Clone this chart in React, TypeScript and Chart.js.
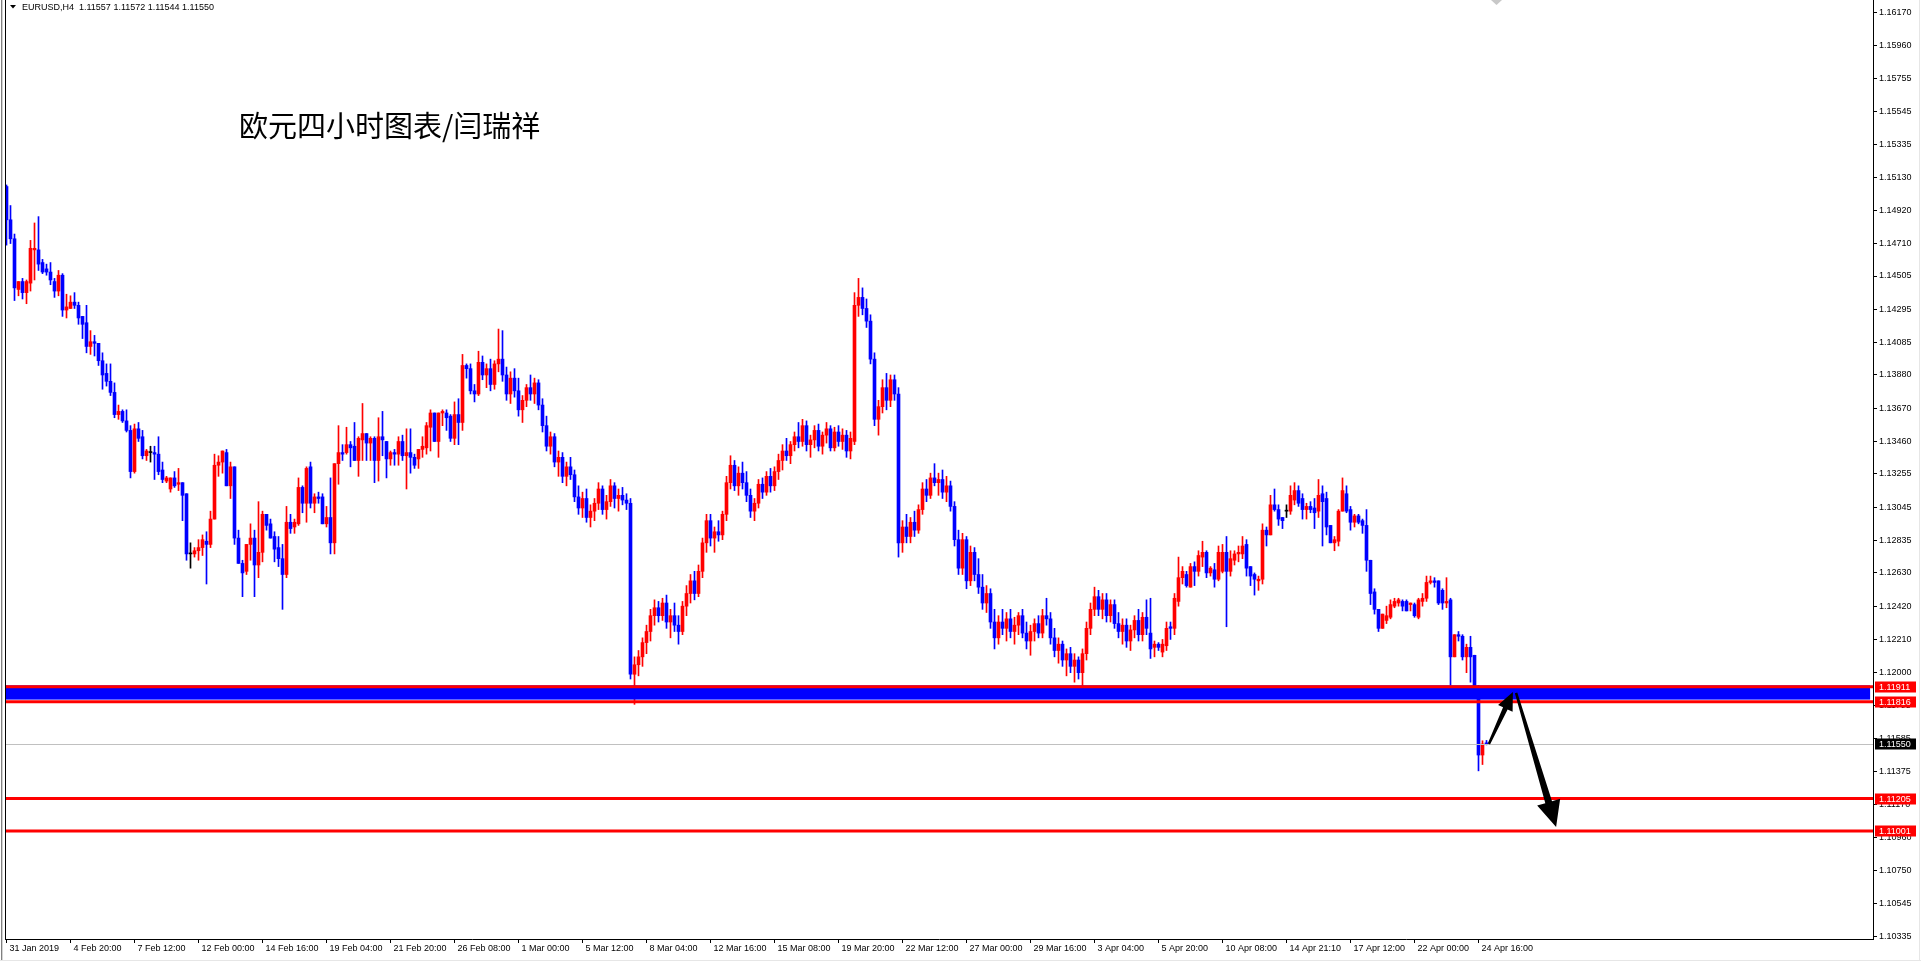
import React, { useEffect, useRef } from "react";
import { Chart, registerables } from "chart.js";

Chart.register(...registerables);

// ---- candle data (EURUSD H4), one entry per bar ----
const opens = [
  1.1507,1.1486,1.1474,1.1442,1.1447,1.1440,1.1446,1.1467,1.1467,1.1459,
  1.1455,1.1453,1.1447,1.1441,1.1451,1.1429,1.1430,1.1434,1.1432,1.1425,
  1.1421,1.1406,1.1409,1.1408,1.1397,1.1389,1.1384,1.1377,1.1363,1.1365,
  1.1359,1.1353,1.1327,1.1354,1.1349,1.1337,1.1339,1.1339,1.1338,1.1328,
  1.1321,1.1316,1.1323,1.1319,1.1320,1.1313,1.1275,1.1275,1.1277,1.1279,
  1.1283,1.1281,1.1297,1.1331,1.1333,1.1339,1.1318,1.1330,1.1285,1.1269,
  1.1264,1.1281,1.1285,1.1268,1.1276,1.1300,1.1294,1.1286,1.1279,1.1272,
  1.1262,1.1295,1.1292,1.1294,1.1317,1.1307,1.1330,1.1307,1.1311,1.1311,
  1.1294,1.1298,1.1282,1.1332,1.1339,1.1339,1.1344,1.1343,1.1334,1.1347,
  1.1351,1.1345,1.1348,1.1334,1.1349,1.1346,1.1335,1.1339,1.1338,1.1346,
  1.1337,1.1339,1.1336,1.1335,1.1341,1.1342,1.1355,1.1364,1.1346,1.1364,
  1.1364,1.1362,1.1348,1.1363,1.1358,1.1394,1.1392,1.1378,1.1376,1.1396,
  1.1388,1.1392,1.1382,1.1395,1.1398,1.1388,1.1376,1.1386,1.1378,1.1366,
  1.1372,1.1380,1.1376,1.1383,1.1369,1.1356,1.1343,1.1349,1.1333,1.1336,
  1.1324,1.1330,1.1325,1.1311,1.1304,1.1310,1.1298,1.1302,1.1307,1.1316,
  1.1303,1.1308,1.1318,1.1310,1.1312,1.1309,1.1307,1.1199,1.1205,1.1210,
  1.1219,1.1226,1.1236,1.1241,1.1236,1.1244,1.1232,1.1236,1.1230,1.1226,
  1.1242,1.1250,1.1258,1.1250,1.1264,1.1282,1.1296,1.1285,1.1289,1.1287,
  1.1300,1.1320,1.1331,1.1318,1.1326,1.1320,1.1312,1.1302,1.1307,1.1319,
  1.1314,1.1324,1.1318,1.1327,1.1334,1.1340,1.1337,1.1344,1.1349,1.1346,
  1.1356,1.1344,1.1347,1.1353,1.1343,1.1350,1.1354,1.1342,1.1352,1.1346,
  1.1350,1.1340,1.1346,1.1432,1.1437,1.1430,1.1422,1.1398,1.1360,1.1368,
  1.1380,1.1372,1.1385,1.1376,1.1282,1.1292,1.1286,1.1295,1.1290,1.1303,
  1.1316,1.1312,1.1323,1.1320,1.1322,1.1314,1.1318,1.1305,1.1284,1.1266,
  1.1284,1.1258,1.1276,1.1262,1.1254,1.1244,1.1250,1.1232,1.1222,1.1232,
  1.1228,1.1234,1.1226,1.1230,1.1236,1.1225,1.1220,1.1226,1.1231,1.1225,
  1.1236,1.1234,1.1222,1.1214,1.1218,1.1208,1.1212,1.1204,1.1208,1.1200,
  1.1212,1.1228,1.1240,1.1248,1.1240,1.1246,1.1236,1.1243,1.1231,1.1226,
  1.1230,1.1220,1.1227,1.1233,1.1224,1.1235,1.1225,1.1216,1.1218,1.1213,
  1.1217,1.1229,1.1228,1.1245,1.1260,1.1262,1.1254,1.1267,1.1264,1.1273,
  1.1276,1.1263,1.1265,1.1259,1.1264,1.1276,1.1264,1.1271,1.1275,1.1275,
  1.1281,1.1267,1.1262,1.1258,1.1259,1.1290,1.1287,1.1306,1.1303,1.1298,
  1.1302,1.1302,1.1309,1.1315,1.1310,1.1303,1.1305,1.1304,1.1302,1.1313,
  1.1310,1.1293,1.1282,1.1283,1.1302,1.1313,1.1303,1.1295,1.1299,1.1296,
  1.1293,1.1271,1.1251,1.1240,1.1228,1.1233,1.1235,1.1242,1.1244,1.1245,
  1.1245,1.1243,1.1243,1.1235,1.1245,1.1247,1.1257,1.1258,1.1258,1.1252,
  1.1244,1.1246,1.1210,1.1224,1.1223,1.1210,1.1216,1.1211,1.1190,1.1148,
  1.11557,
];

const highs = [
  1.1508,1.1495,1.1477,1.1447,1.1449,1.1448,1.1473,1.1484,1.1488,1.1461,
  1.1458,1.1459,1.1449,1.1454,1.1452,1.1439,1.1438,1.1440,1.1434,1.1425,
  1.1432,1.1416,1.1413,1.1408,1.1402,1.1395,1.1395,1.1383,1.1369,1.1366,
  1.1366,1.1356,1.1357,1.1358,1.1353,1.1341,1.1343,1.1343,1.1349,1.1333,
  1.1324,1.1323,1.1327,1.1329,1.1320,1.1313,1.1282,1.1279,1.1284,1.1287,
  1.1289,1.1302,1.1338,1.1337,1.1340,1.1341,1.1333,1.1330,1.1290,1.1271,
  1.1281,1.1294,1.1290,1.1308,1.1302,1.1300,1.1297,1.1289,1.1286,1.1281,
  1.1305,1.1300,1.1297,1.1323,1.1318,1.1330,1.1333,1.1313,1.1314,1.1313,
  1.1305,1.1323,1.1332,1.1356,1.1344,1.1355,1.1346,1.1358,1.1349,1.1370,
  1.1351,1.1349,1.1349,1.1361,1.1365,1.1346,1.1340,1.1341,1.1349,1.1350,
  1.1354,1.1354,1.1338,1.1341,1.1349,1.1358,1.1366,1.1364,1.1364,1.1366,
  1.1366,1.1363,1.1371,1.1373,1.1401,1.1395,1.1395,1.1382,1.1403,1.1400,
  1.1395,1.1398,1.1397,1.1417,1.1416,1.1393,1.1390,1.1392,1.1386,1.1375,
  1.1382,1.1388,1.1386,1.1385,1.1373,1.1362,1.1352,1.1351,1.1340,1.1339,
  1.1333,1.1336,1.1328,1.1318,1.1314,1.1316,1.1306,1.1310,1.1320,1.1318,
  1.1312,1.1322,1.1320,1.1316,1.1317,1.1313,1.1310,1.1210,1.1214,1.1222,
  1.1230,1.1240,1.1246,1.1245,1.1247,1.1249,1.1240,1.1244,1.1236,1.1245,
  1.1255,1.1262,1.1264,1.1268,1.1285,1.1300,1.1300,1.1292,1.1296,1.1302,
  1.1324,1.1337,1.1334,1.1330,1.1333,1.1327,1.1316,1.1310,1.1322,1.1323,
  1.1327,1.1329,1.1330,1.1338,1.1344,1.1348,1.1346,1.1352,1.1358,1.1360,
  1.1359,1.1350,1.1356,1.1357,1.1352,1.1358,1.1356,1.1355,1.1356,1.1354,
  1.1353,1.1352,1.1440,1.1449,1.1443,1.1436,1.1426,1.1402,1.1372,1.1385,
  1.1389,1.1388,1.1388,1.1380,1.1296,1.1300,1.1298,1.1302,1.1306,1.1320,
  1.1322,1.1326,1.1332,1.1326,1.1328,1.1324,1.1321,1.1308,1.1290,1.1288,
  1.1286,1.1280,1.1279,1.1272,1.1262,1.1255,1.1253,1.1240,1.1236,1.1240,
  1.1238,1.1240,1.1235,1.1238,1.1240,1.1232,1.1230,1.1234,1.1236,1.1240,
  1.1247,1.1238,1.1228,1.1222,1.1220,1.1215,1.1216,1.1212,1.1210,1.1215,
  1.1232,1.1244,1.1254,1.1252,1.1250,1.1250,1.1246,1.1246,1.1238,1.1234,
  1.1234,1.1230,1.1236,1.1240,1.1238,1.1246,1.1247,1.1220,1.1219,1.1221,
  1.1232,1.1232,1.1250,1.1273,1.1267,1.1264,1.1269,1.1270,1.1277,1.1283,
  1.1277,1.1267,1.1269,1.1280,1.1281,1.1286,1.1277,1.1277,1.1280,1.1286,
  1.1284,1.1267,1.1263,1.1261,1.1294,1.1292,1.1312,1.1316,1.1306,1.1298,
  1.1306,1.1318,1.1320,1.1318,1.1313,1.1307,1.1308,1.1310,1.1322,1.1318,
  1.1314,1.1293,1.1286,1.1303,1.1323,1.1318,1.1305,1.1300,1.1300,1.1297,
  1.1303,1.1271,1.1253,1.1240,1.1237,1.1242,1.1246,1.1247,1.1247,1.1246,
  1.1246,1.1244,1.1244,1.1247,1.1250,1.1261,1.1261,1.1260,1.1258,1.1253,
  1.1260,1.1247,1.1224,1.1226,1.1224,1.1218,1.1223,1.1211,1.1192,1.1157,
  1.11572,
];

const lows = [
  1.1470,1.1471,1.1435,1.1438,1.1436,1.1433,1.1441,1.1448,1.1454,1.1452,
  1.1451,1.1445,1.1437,1.1438,1.1425,1.1424,1.1430,1.1430,1.1420,1.1411,
  1.1402,1.1401,1.1400,1.1394,1.1379,1.1381,1.1375,1.1361,1.1360,1.1358,
  1.1352,1.1323,1.1326,1.1346,1.1335,1.1334,1.1333,1.1322,1.1325,1.1320,
  1.1320,1.1314,1.1317,1.1315,1.1296,1.1271,1.1266,1.1273,1.1271,1.1274,
  1.1256,1.1279,1.1297,1.1324,1.1326,1.1318,1.1310,1.1281,1.1269,1.1248,
  1.1262,1.1271,1.1248,1.1260,1.1270,1.1290,1.1285,1.1270,1.1267,1.1240,
  1.1260,1.1288,1.1288,1.1293,1.1301,1.1295,1.1304,1.1301,1.1307,1.1294,
  1.1292,1.1275,1.1275,1.1319,1.1334,1.1338,1.1330,1.1334,1.1324,1.1334,
  1.1334,1.1334,1.1320,1.1321,1.1337,1.1323,1.1331,1.1331,1.1331,1.1334,
  1.1316,1.1326,1.1329,1.1329,1.1336,1.1338,1.1340,1.1346,1.1336,1.1356,
  1.1353,1.1346,1.1344,1.1344,1.1353,1.1386,1.1376,1.1371,1.1375,1.1385,
  1.1380,1.1378,1.1379,1.1390,1.1384,1.1372,1.1370,1.1374,1.1362,1.1358,
  1.1368,1.1372,1.1370,1.1366,1.1352,1.1340,1.1338,1.1330,1.1324,1.1320,
  1.1318,1.1322,1.1308,1.1300,1.1298,1.1295,1.1292,1.1296,1.1303,1.1300,
  1.1297,1.1305,1.1304,1.1302,1.1306,1.1303,1.1196,1.1180,1.1198,1.1204,
  1.1212,1.1220,1.1230,1.1232,1.1233,1.1228,1.1222,1.1226,1.1218,1.1224,
  1.1236,1.1244,1.1246,1.1248,1.1260,1.1276,1.1280,1.1276,1.1283,1.1284,
  1.1296,1.1316,1.1315,1.1312,1.1316,1.1308,1.1298,1.1296,1.1304,1.1310,
  1.1312,1.1314,1.1315,1.1322,1.1328,1.1334,1.1332,1.1340,1.1342,1.1343,
  1.1340,1.1336,1.1342,1.1340,1.1338,1.1345,1.1340,1.1340,1.1343,1.1341,
  1.1336,1.1335,1.1344,1.1425,1.1426,1.1418,1.1395,1.1356,1.1350,1.1364,
  1.1366,1.1368,1.1372,1.1273,1.1276,1.1282,1.1282,1.1286,1.1288,1.1300,
  1.1308,1.1310,1.1318,1.1312,1.1310,1.1308,1.1302,1.1280,1.1262,1.1262,
  1.1253,1.1255,1.1258,1.1250,1.1240,1.1238,1.1228,1.1215,1.1218,1.1224,
  1.1220,1.1222,1.1218,1.1224,1.1222,1.1215,1.1211,1.1220,1.1222,1.1222,
  1.1230,1.1218,1.1210,1.1206,1.1204,1.1198,1.1200,1.1194,1.1196,1.1186,
  1.1208,1.1224,1.1236,1.1236,1.1234,1.1232,1.1232,1.1228,1.1222,1.1218,
  1.1216,1.1214,1.1222,1.1220,1.1220,1.1224,1.1209,1.1210,1.1214,1.1210,
  1.1214,1.1221,1.1224,1.1242,1.1256,1.1254,1.1254,1.1255,1.1261,1.1267,
  1.1260,1.1261,1.1254,1.1258,1.1263,1.1229,1.1261,1.1268,1.1270,1.1272,
  1.1261,1.1255,1.1249,1.1252,1.1256,1.1280,1.1287,1.1302,1.1293,1.1291,
  1.1298,1.1300,1.1306,1.1305,1.1297,1.1297,1.1301,1.1291,1.1298,1.1280,
  1.1287,1.1282,1.1277,1.1280,1.1302,1.1301,1.1290,1.1292,1.1294,1.1288,
  1.1264,1.1243,1.1237,1.1226,1.1228,1.1231,1.1234,1.1241,1.1242,1.1239,
  1.1239,1.1239,1.1235,1.1234,1.1242,1.1245,1.1256,1.1254,1.1243,1.1240,
  1.1241,1.1192,1.1210,1.1220,1.1208,1.1200,1.1194,1.1188,1.1138,1.1142,
  1.11544,
];

const closes = [
  1.1486,1.1474,1.1443,1.1447,1.1440,1.1447,1.1468,1.1468,1.1458,1.1453,
  1.1453,1.1448,1.1441,1.1451,1.1429,1.1431,1.1434,1.1432,1.1424,1.1420,
  1.1406,1.1409,1.1408,1.1397,1.1388,1.1384,1.1377,1.1363,1.1365,1.1359,
  1.1353,1.1327,1.1354,1.1348,1.1337,1.1340,1.1339,1.1338,1.1327,1.1322,
  1.1323,1.1323,1.1318,1.1320,1.1312,1.1275,1.1275,1.1277,1.1279,1.1284,
  1.1281,1.1297,1.1331,1.1333,1.1340,1.1318,1.1330,1.1285,1.1269,1.1263,
  1.1281,1.1285,1.1268,1.1276,1.1300,1.1293,1.1285,1.1278,1.1272,1.1262,
  1.1295,1.1291,1.1295,1.1317,1.1307,1.1329,1.1307,1.1311,1.1310,1.1294,
  1.1298,1.1282,1.1332,1.1339,1.1338,1.1344,1.1342,1.1334,1.1348,1.1351,
  1.1345,1.1348,1.1334,1.1349,1.1347,1.1335,1.1339,1.1338,1.1346,1.1337,
  1.1339,1.1336,1.1331,1.1341,1.1343,1.1356,1.1364,1.1346,1.1364,1.1365,
  1.1361,1.1348,1.1363,1.1358,1.1394,1.1392,1.1378,1.1376,1.1396,1.1388,
  1.1392,1.1382,1.1395,1.1398,1.1388,1.1376,1.1386,1.1378,1.1366,1.1372,
  1.1380,1.1376,1.1383,1.1369,1.1356,1.1343,1.1349,1.1333,1.1336,1.1324,
  1.1330,1.1325,1.1311,1.1304,1.1310,1.1298,1.1302,1.1307,1.1316,1.1303,
  1.1308,1.1318,1.1310,1.1312,1.1309,1.1307,1.1199,1.1205,1.1210,1.1219,
  1.1226,1.1236,1.1241,1.1236,1.1244,1.1232,1.1236,1.1230,1.1226,1.1242,
  1.1250,1.1258,1.1250,1.1264,1.1282,1.1296,1.1285,1.1289,1.1287,1.1300,
  1.1320,1.1331,1.1318,1.1326,1.1320,1.1312,1.1302,1.1307,1.1319,1.1314,
  1.1324,1.1318,1.1327,1.1334,1.1340,1.1337,1.1344,1.1349,1.1346,1.1356,
  1.1344,1.1347,1.1353,1.1343,1.1350,1.1354,1.1342,1.1352,1.1346,1.1350,
  1.1340,1.1348,1.1432,1.1437,1.1430,1.1422,1.1398,1.1360,1.1368,1.1380,
  1.1372,1.1385,1.1376,1.1282,1.1292,1.1286,1.1295,1.1290,1.1303,1.1316,
  1.1312,1.1323,1.1320,1.1322,1.1314,1.1318,1.1305,1.1284,1.1266,1.1284,
  1.1258,1.1276,1.1262,1.1254,1.1244,1.1250,1.1232,1.1222,1.1232,1.1228,
  1.1234,1.1226,1.1230,1.1236,1.1225,1.1220,1.1226,1.1231,1.1225,1.1236,
  1.1234,1.1222,1.1214,1.1218,1.1208,1.1212,1.1204,1.1208,1.1200,1.1212,
  1.1228,1.1240,1.1248,1.1240,1.1246,1.1236,1.1243,1.1231,1.1226,1.1230,
  1.1220,1.1227,1.1233,1.1224,1.1235,1.1228,1.1215,1.1218,1.1216,1.1218,
  1.1228,1.1228,1.1247,1.1260,1.1264,1.1255,1.1267,1.1264,1.1274,1.1276,
  1.1263,1.1266,1.1259,1.1276,1.1276,1.1264,1.1272,1.1275,1.1276,1.1280,
  1.1266,1.1261,1.1259,1.1259,1.1290,1.1287,1.1306,1.1303,1.1297,1.1296,
  1.1302,1.1312,1.1315,1.1307,1.1303,1.1305,1.1303,1.1301,1.1312,1.1308,
  1.1292,1.1282,1.1284,1.1302,1.1315,1.1302,1.1295,1.1299,1.1295,1.1293,
  1.1271,1.1250,1.1240,1.1228,1.1237,1.1236,1.1243,1.1245,1.1246,1.1242,
  1.1239,1.1244,1.1236,1.1246,1.1247,1.1257,1.1258,1.1257,1.1244,1.1244,
  1.1245,1.1210,1.1224,1.1223,1.1210,1.1216,1.1210,1.1190,1.1148,1.1155,
  1.11550,
];

// ---- axis tick data ----
const timeTickBars = [0,16,32,48,64,80,96,112,128,144,160,176,192,208,224,240,256,272,288,304,320,336,352,368];
const timeTickLabels = [
  "31 Jan 2019","4 Feb 20:00","7 Feb 12:00","12 Feb 00:00","14 Feb 16:00","19 Feb 04:00",
  "21 Feb 20:00","26 Feb 08:00","1 Mar 00:00","5 Mar 12:00","8 Mar 04:00","12 Mar 16:00",
  "15 Mar 08:00","19 Mar 20:00","22 Mar 12:00","27 Mar 00:00","29 Mar 16:00","3 Apr 04:00",
  "5 Apr 20:00","10 Apr 08:00","14 Apr 21:10","17 Apr 12:00","22 Apr 00:00","24 Apr 16:00",
];
const priceTicks = [
  1.16170,1.15960,1.15755,1.15545,1.15335,1.15130,1.14920,1.14710,1.14505,1.14295,
  1.14085,1.13880,1.13670,1.13460,1.13255,1.13045,1.12835,1.12630,1.12420,1.12210,
  1.12000,1.11795,1.11585,1.11375,1.11170,1.10960,1.10750,1.10545,1.10335,
];

// ---- annotation data ----
const headerText = "EURUSD,H4  1.11557 1.11572 1.11544 1.11550";
const titleText = "欧元四小时图表/闫瑞祥";
const levelPrices = [1.11911, 1.11816, 1.11205, 1.11001];
const bidPrice = 1.1155;
const zonePrices = [1.1192, 1.1183];
const zoneBars = [-0.375, 465.9];
const arrowFrom = [[370.6, 1.1155], [377.4, 1.11872]];
const arrowTo = [[376.6, 1.11878], [387.4, 1.11025]];

// ---- styles ----
const UP = "#ff0000";
const DOWN = "#0000ff";
const DOJI = "#000000";
const AXIS_FONT = "Liberation Sans";
const arrowStyle = [
  { w0: 2.5, w1: 5, head: 18, half: 8 },
  { w0: 2.5, w1: 7, head: 26, half: 12 },
];

function drawArrow(ctx: CanvasRenderingContext2D, x0: number, y0: number, x1: number, y1: number, s: any) {
  const dx = x1 - x0, dy = y1 - y0;
  const L = Math.hypot(dx, dy);
  const ux = dx / L, uy = dy / L;
  const nx = -uy, ny = ux;
  const bx = x1 - ux * s.head, by = y1 - uy * s.head;
  ctx.beginPath();
  ctx.moveTo(x0 + nx * s.w0 / 2, y0 + ny * s.w0 / 2);
  ctx.lineTo(bx + nx * s.w1 / 2, by + ny * s.w1 / 2);
  ctx.lineTo(bx + nx * s.half, by + ny * s.half);
  ctx.lineTo(x1, y1);
  ctx.lineTo(bx - nx * s.half, by - ny * s.half);
  ctx.lineTo(bx - nx * s.w1 / 2, by - ny * s.w1 / 2);
  ctx.lineTo(x0 - nx * s.w0 / 2, y0 - ny * s.w0 / 2);
  ctx.closePath();
  ctx.fill();
}

const overlayPlugin = {
  id: "mt4overlay",
  afterDatasetsDraw(chart: any) {
    const { ctx, chartArea: ca, scales } = chart;
    const xs = scales.x, ys = scales.y;
    ctx.save();
    ctx.beginPath();
    ctx.rect(ca.left, ca.top, ca.right - ca.left, ca.bottom - ca.top);
    ctx.clip();
    const by = Math.round(ys.getPixelForValue(bidPrice)) + 0.5;
    ctx.strokeStyle = "#c0c0c0";
    ctx.lineWidth = 1;
    ctx.beginPath();
    ctx.moveTo(ca.left, by);
    ctx.lineTo(ca.right, by);
    ctx.stroke();
    const zt = ys.getPixelForValue(zonePrices[0]);
    const zb = ys.getPixelForValue(zonePrices[1]);
    const zl = xs.getPixelForValue(zoneBars[0]);
    const zr = xs.getPixelForValue(zoneBars[1]);
    ctx.fillStyle = "#0000ff";
    ctx.fillRect(zl, zt, zr - zl, zb - zt);
    ctx.strokeStyle = "#ff0000";
    ctx.lineWidth = 3;
    levelPrices.forEach((p) => {
      const py = ys.getPixelForValue(p);
      ctx.beginPath();
      ctx.moveTo(ca.left, py);
      ctx.lineTo(ca.right, py);
      ctx.stroke();
    });
    ctx.fillStyle = "#000000";
    arrowFrom.forEach((f, i) => {
      const t = arrowTo[i];
      drawArrow(
        ctx,
        xs.getPixelForValue(f[0]), ys.getPixelForValue(f[1]),
        xs.getPixelForValue(t[0]), ys.getPixelForValue(t[1]),
        arrowStyle[i]
      );
    });
    ctx.restore();
  },
  afterDraw(chart: any) {
    const { ctx, chartArea: ca, scales } = chart;
    const ys = scales.y;
    ctx.save();
    ctx.fillStyle = "#808080";
    ctx.fillRect(1, 0, 1, chart.height);
    ctx.fillStyle = "#d4d4d4";
    ctx.fillRect(2, 0, 1, chart.height);
    ctx.fillStyle = "#e6e6e6";
    ctx.fillRect(0, chart.height - 1, chart.width, 1);
    ctx.fillRect(chart.width - 2, 0, 1, chart.height);
    ctx.strokeStyle = "#000";
    ctx.lineWidth = 1;
    ctx.beginPath();
    ctx.moveTo(ca.left + 0.5, 0);
    ctx.lineTo(ca.left + 0.5, ca.bottom + 1);
    ctx.stroke();
    ctx.font = `9px "${AXIS_FONT}"`;
    ctx.textBaseline = "middle";
    ctx.textAlign = "left";
    const boxX = ca.right + 2;
    const boxW = 41;
    levelPrices.forEach((p) => {
      const py = Math.round(ys.getPixelForValue(p));
      ctx.fillStyle = "#ff0000";
      ctx.fillRect(boxX, py - 5.5, boxW, 11);
      ctx.fillStyle = "#ffffff";
      ctx.fillText(p.toFixed(5), boxX + 4, py + 0.5);
    });
    const bpy = Math.round(ys.getPixelForValue(bidPrice));
    ctx.fillStyle = "#000000";
    ctx.fillRect(boxX, bpy - 5.5, boxW, 11);
    ctx.fillStyle = "#ffffff";
    ctx.fillText(bidPrice.toFixed(5), boxX + 4, bpy + 0.5);
    ctx.fillStyle = "#000";
    ctx.beginPath();
    ctx.moveTo(10, 5);
    ctx.lineTo(16, 5);
    ctx.lineTo(13, 8.5);
    ctx.closePath();
    ctx.fill();
    ctx.fillText(headerText, 22, 7.5);
    ctx.fillStyle = "#c8c8c8";
    ctx.beginPath();
    ctx.moveTo(1491, 0);
    ctx.lineTo(1502, 0);
    ctx.lineTo(1496.5, 5);
    ctx.closePath();
    ctx.fill();
    ctx.fillStyle = "#000";
    ctx.font = `29px "Noto Sans CJK SC"`;
    ctx.textBaseline = "middle";
    ctx.fillText(titleText, 239, 126);
    ctx.restore();
  },
};

export default function App() {
  const canvasRef = useRef<HTMLCanvasElement | null>(null);

  useEffect(() => {
    document.body.style.margin = "0";
    document.body.style.overflow = "hidden";
    const canvas = canvasRef.current;
    if (!canvas) return;
    const n = closes.length;
    const idx = Array.from({ length: n }, (_, i) => i);
    const colorOf = (i: number) =>
      closes[i] > opens[i] ? UP : closes[i] < opens[i] ? DOWN : DOJI;
    const bodyData = idx.map((i) => ({
      x: i,
      y: [Math.min(opens[i], closes[i]), Math.max(opens[i], closes[i])],
    }));
    const wickData = idx.map((i) => ({ x: i, y: [lows[i], highs[i]] }));
    const colors = idx.map(colorOf);

    const chart = new Chart(canvas, {
      type: "bar",
      data: {
        datasets: [
          {
            label: "body",
            data: bodyData as any,
            backgroundColor: colors,
            borderWidth: 0,
            barThickness: 3,
            minBarLength: 1,
            grouped: false,
            order: 0,
          } as any,
          {
            label: "wick",
            data: wickData as any,
            backgroundColor: colors,
            borderWidth: 0,
            barThickness: 1,
            minBarLength: 1,
            grouped: false,
            order: 1,
          } as any,
        ],
      },
      options: {
        animation: false,
        responsive: false,
        devicePixelRatio: 1,
        events: [],
        layout: { padding: { left: 5, top: 0, right: 0, bottom: 0 } },
        plugins: {
          legend: { display: false },
          tooltip: { enabled: false },
          title: { display: false },
        },
        scales: {
          x: {
            type: "linear",
            position: "bottom",
            offset: false,
            min: -0.375,
            max: 466.625,
            bounds: "data",
            afterBuildTicks: (s: any) => {
              s.ticks = timeTickBars.map((v) => ({ value: v }));
            },
            afterFit: (s: any) => {
              s.height = 22;
              s.paddingLeft = 0;
              s.paddingRight = 0;
            },
            ticks: {
              autoSkip: false,
              maxRotation: 0,
              minRotation: 0,
              align: "start",
              labelOffset: 3,
              padding: 0,
              color: "#000",
              font: { family: AXIS_FONT, size: 9 },
              callback: (v: any) => {
                const k = timeTickBars.indexOf(Number(v));
                return k >= 0 ? timeTickLabels[k] : "";
              },
            },
            grid: {
              display: true,
              offset: false,
              drawOnChartArea: false,
              drawTicks: true,
              tickLength: 4,
              color: "#000",
              lineWidth: 1,
            },
            border: { display: true, color: "#000", width: 1 },
          } as any,
          y: {
            type: "linear",
            position: "right",
            min: 1.103182,
            max: 1.16248,
            bounds: "data",
            afterBuildTicks: (s: any) => {
              s.ticks = priceTicks.map((v) => ({ value: v }));
            },
            afterFit: (s: any) => {
              s.width = 48;
              s.paddingTop = 0;
              s.paddingBottom = 0;
            },
            ticks: {
              autoSkip: false,
              padding: 2,
              color: "#000",
              font: { family: AXIS_FONT, size: 9 },
              callback: (v: any) => Number(v).toFixed(5),
            },
            grid: {
              display: true,
              drawOnChartArea: false,
              drawTicks: true,
              tickLength: 4,
              color: "#000",
              lineWidth: 1,
            },
            border: { display: true, color: "#000", width: 1 },
          } as any,
        },
      },
      plugins: [overlayPlugin as any],
    });
    return () => chart.destroy();
  }, []);

  return (
    <div style={{ position: "absolute", left: 0, top: 0, width: 1921, height: 961, background: "#fff" }}>
      <canvas ref={canvasRef} width={1921} height={961} style={{ width: 1921, height: 961, display: "block" }} />
    </div>
  );
}
